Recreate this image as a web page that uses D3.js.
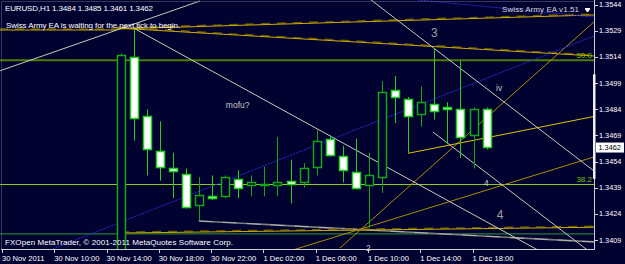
<!DOCTYPE html>
<html>
<head>
<meta charset="utf-8">
<script src="https://cdn.jsdelivr.net/npm/d3@7"></script>
<style>
  body { margin: 0; background: #020230; overflow: hidden; }
  svg { display: block; }
  text { font-family: "Liberation Sans", Arial, sans-serif; }
</style>
</head>
<body>
<div class="svg-container"></div>
<script>
var width = 625;
var height = 264;
var plot = { "left": 0, "top": 0, "right": 594, "bottom": 249 };

// H1 bars, index 0 = 30 Nov 14:00
var barIndex = [1, 2, 3, 4, 5, 6, 7, 8, 9, 10, 11, 12, 13, 14, 15,
                16, 17, 18, 19, 20, 21, 22, 23, 24, 25, 26, 27, 28, 29];
var opens  = [1.3380, 1.3514, 1.3480, 1.3460, 1.3450, 1.3447, 1.3429, 1.3434, 1.3434, 1.3444,
              1.3440, 1.3441, 1.3440, 1.3443, 1.3442, 1.3451, 1.3467, 1.3457, 1.3448, 1.3440,
              1.3445, 1.3495, 1.3490, 1.3481, 1.3487, 1.3485, 1.3484, 1.3469, 1.3484];
var highs  = [1.3516, 1.3530, 1.3484, 1.3477, 1.3459, 1.3450, 1.3445, 1.3446, 1.3446, 1.3449,
              1.3446, 1.3451, 1.3468, 1.3455, 1.3453, 1.3472, 1.3469, 1.3463, 1.3467, 1.3459,
              1.3500, 1.3503, 1.3491, 1.3497, 1.3519, 1.3488, 1.3512, 1.3485, 1.3485];
var lows   = [1.3375, 1.3466, 1.3446, 1.3443, 1.3433, 1.3427, 1.3420, 1.3432, 1.3433, 1.3433,
              1.3434, 1.3434, 1.3434, 1.3430, 1.3439, 1.3446, 1.3457, 1.3442, 1.3438, 1.3416,
              1.3436, 1.3476, 1.3459, 1.3474, 1.3478, 1.3464, 1.3456, 1.3450, 1.3461];
var closes = [1.3515, 1.3479, 1.3461, 1.3451, 1.3448, 1.3428, 1.3435, 1.3433, 1.3445, 1.3439,
              1.3442, 1.3441, 1.3442, 1.3441, 1.3450, 1.3466, 1.3458, 1.3449, 1.3439, 1.3446,
              1.3494, 1.3491, 1.3480, 1.3488, 1.3483, 1.3484, 1.3468, 1.3484, 1.3462];

var timeTickBars = [-8, -4, 0, 4, 8, 12, 16, 20, 24, 28];
var timeTickLabels = ["30 Nov 2011", "30 Nov 10:00", "30 Nov 14:00", "30 Nov 18:00", "30 Nov 22:00",
                      "1 Dec 02:00", "1 Dec 06:00", "1 Dec 10:00", "1 Dec 14:00", "1 Dec 18:00"];
var priceTicks = [1.3544, 1.3529, 1.3514, 1.3499, 1.3484, 1.3469, 1.3454, 1.3439, 1.3424, 1.3409];

// fibo levels
var fiboLevels = [1.3512, 1.3441];
var fiboNames = ["50.0", "38.2"];

// trendlines as [bar, price, bar, price]
var greyLines = [[-8.23, 1.3506, 7.07, 1.3546],
                 [1.99, 1.35305, 33.47, 1.34010],
                 [20.16, 1.35466, 37.21, 1.34486],
                 [24.9, 1.34709, 37.21, 1.34004]];
var channelLines = [[-8.3, 1.35294, 0.72, 1.35294],
                    [0.72, 1.35300, 37.21, 1.35380],
                    [0.72, 1.35305, 37.21, 1.35145],
                    [0.96, 1.34130, 37.21, 1.34163]];
var fanLines = [[17.78, 1.34044, 37.21, 1.35340],
                [14.19, 1.34033, 37.21, 1.34566]];
var yellowLines = [[22.99, 1.34587, 37.21, 1.34798]];
var blueLines = [[-4.4, 1.34033, 37.21, 1.35259],
                 [23.75, 1.35466, 37.21, 1.35368]];
var greenLines = [[-8.3, 1.34125, 37.21, 1.34125]];
var stepLines = [[6.97, 1.34199, 37.21, 1.34079]];

// wave labels
var waveLabels = ["3", "iv", "4", "4", "2", "mofu?"];
var waveBars = [24.75, 29.72, 28.8, 29.77, 19.77, 9.05];
var wavePrices = [1.35254, 1.34944, 1.34401, 1.34210, 1.34027, 1.34847];
var waveSizes = ["big", "small", "small", "big", "small", "small"];

var symbol = "EURUSD,H1";

var scaleX = d3.scaleLinear().domain([-8, 29]).range([3, 486.6]);
var scaleY = d3.scaleLinear().domain([1.3409, 1.3544]).range([240, 4.5]);

var svg = d3.select(".svg-container").append("svg")
            .attr("width", width)
            .attr("height", height);

svg.append("rect")
   .attr("width", width)
   .attr("height", height)
   .attr("fill", "#020230");

svg.append("clipPath")
   .attr("id", "plot-clip")
   .append("rect")
   .attr("x", plot.left).attr("y", plot.top)
   .attr("width", plot.right - plot.left)
   .attr("height", plot.bottom - plot.top);

var chart = svg.append("g").attr("clip-path", "url(#plot-clip)");

function px(v) { return Math.round(v) + 0.5; }

// frame
svg.append("path")
   .attr("d", "M1.5,249.5V1.5H594.5")
   .attr("fill", "none")
   .attr("stroke", "#6c6c80")
   .attr("stroke-dasharray", "1,1");
svg.append("path")
   .attr("d", "M1,249.5H594.5V0")
   .attr("fill", "none")
   .attr("stroke", "#d0d0d0");

function drawSegments(container, data, stroke, widthPx, dash, dy) {
  container.append("g")
    .selectAll("line")
    .data(data)
    .enter()
    .append("line")
      .attr("x1", function(d) { return scaleX(d[0]); })
      .attr("y1", function(d) { return scaleY(d[1]) + (dy || 0); })
      .attr("x2", function(d) { return scaleX(d[2]); })
      .attr("y2", function(d) { return scaleY(d[3]) + (dy || 0); })
      .attr("stroke", stroke)
      .attr("stroke-width", widthPx)
      .style("stroke-dasharray", dash || null);
}

// fibo horizontals
chart.append("line")
  .attr("x1", plot.left).attr("x2", plot.right)
  .attr("y1", scaleY(fiboLevels[0])).attr("y2", scaleY(fiboLevels[0]))
  .attr("stroke", "#4c7f00").attr("stroke-width", 2);
chart.append("line")
  .attr("x1", plot.left).attr("x2", plot.right)
  .attr("y1", px(scaleY(fiboLevels[1]))).attr("y2", px(scaleY(fiboLevels[1])))
  .attr("stroke", "#8ccc1c").attr("stroke-width", 1);

// lower stepped stuff
drawSegments(chart, greenLines, "#2a9a3a", 1);
drawSegments(chart, stepLines, "#7c7c7c", 1.6);
drawSegments(chart, stepLines, "#dcdcdc", 0.6, "14,10");

// trend lines
drawSegments(chart, channelLines, "#6a5a00", 1.4, "9,7", -1);
drawSegments(chart, channelLines, "#d0ac00", 1);
drawSegments(chart, fanLines, "#a88e00", 1);
drawSegments(chart, yellowLines, "#e2c200", 1);
drawSegments(chart, blueLines, "#2a2ad8", 1, "2,1");
drawSegments(chart, greyLines, "#cacab6", 1);

// candles
var bars = barIndex.map(function(k, i) {
  return { k: k, o: opens[i], h: highs[i], l: lows[i], c: closes[i] };
});

var candles = chart.append("g").attr("class", "candles")
  .selectAll("g")
  .data(bars)
  .enter()
  .append("g");

candles.append("line")
  .attr("x1", function(d) { return px(scaleX(d.k)); })
  .attr("x2", function(d) { return px(scaleX(d.k)); })
  .attr("y1", function(d) { return scaleY(d.h); })
  .attr("y2", function(d) { return scaleY(d.l); })
  .attr("stroke", function(d) { return d.c >= d.o ? "#12a812" : "#1ed21e"; });

candles.append("rect")
  .attr("x", function(d) { return px(scaleX(d.k)) - 4; })
  .attr("y", function(d) { return Math.round(scaleY(Math.max(d.o, d.c))) + 0.5; })
  .attr("width", 8)
  .attr("height", function(d) { return Math.max(1, Math.round(Math.abs(scaleY(d.o) - scaleY(d.c)))); })
  .attr("fill", function(d) { return d.c >= d.o ? "#020230" : "#ffffff"; })
  .attr("stroke", function(d) { return d.c >= d.o ? "#12a812" : "#1ed21e"; })
  .attr("stroke-width", 1.5);

// fibo labels
svg.selectAll(".fibo-label")
  .data(fiboLevels)
  .enter()
  .append("text")
    .attr("class", "fibo-label")
    .attr("x", 592)
    .attr("y", function(d) { return scaleY(d) - 2; })
    .attr("text-anchor", "end")
    .attr("fill", "#7cc000")
    .style("font-size", "8px")
    .text(function(d, i) { return fiboNames[i]; });

// wave labels
svg.selectAll(".wave")
  .data(waveLabels)
  .enter()
  .append("text")
    .attr("class", "wave")
    .attr("x", function(d, i) { return scaleX(waveBars[i]); })
    .attr("y", function(d, i) { return scaleY(wavePrices[i]); })
    .attr("fill", function(d, i) { return waveSizes[i] == "big" ? "#a0a0a0" : "#c8c8c8"; })
    .style("font-size", function(d, i) { return waveSizes[i] == "big" ? "12px" : "8.5px"; })
    .text(function(d) { return d; });

// price axis
var yAxisG = svg.append("g").attr("class", "yAxis");
yAxisG.selectAll("line")
  .data(priceTicks)
  .enter()
  .append("line")
    .attr("x1", 594).attr("x2", 598)
    .attr("y1", function(d) { return px(scaleY(d)); })
    .attr("y2", function(d) { return px(scaleY(d)); })
    .attr("stroke", "#d0d0d0");
yAxisG.selectAll("text")
  .data(priceTicks)
  .enter()
  .append("text")
    .attr("x", 599)
    .attr("y", function(d) { return scaleY(d) + 2.6; })
    .attr("fill", "#ffffff")
    .style("font-size", "7.3px")
    .text(function(d) { return d.toFixed(4); });

// last price marker
var lastClose = closes[closes.length - 1];
svg.append("rect")
  .attr("x", 593).attr("y", scaleY(highs[26] - 0.0008))
  .attr("width", 2.5)
  .attr("height", scaleY(1.3454 - 0.0010) - scaleY(highs[26] - 0.0008))
  .attr("fill", "#f0f0f0");
svg.append("rect")
  .attr("x", 596).attr("y", scaleY(lastClose) - 5)
  .attr("width", 28).attr("height", 10)
  .attr("fill", "#ffffff");
svg.append("text")
  .attr("x", 598.5)
  .attr("y", scaleY(lastClose) + 2.6)
  .attr("fill", "#000000")
  .style("font-size", "7.3px")
  .text(lastClose.toFixed(4));

// time axis
var xAxisG = svg.append("g").attr("class", "xAxis");
xAxisG.selectAll("line")
  .data(timeTickBars)
  .enter()
  .append("line")
    .attr("x1", function(d) { return px(scaleX(d) - 1); })
    .attr("x2", function(d) { return px(scaleX(d) - 1); })
    .attr("y1", 249).attr("y2", 253)
    .attr("stroke", "#d0d0d0");
xAxisG.selectAll("text")
  .data(timeTickLabels)
  .enter()
  .append("text")
    .attr("x", function(d, i) { return scaleX(timeTickBars[i]) - 1; })
    .attr("y", 261)
    .attr("fill", "#ffffff")
    .style("font-size", "7.6px")
    .text(function(d) { return d; });

// header texts
var last = closes.length - 1;
svg.append("text")
  .attr("x", 5).attr("y", 11)
  .attr("fill", "#ffffff")
  .style("font-size", "8px")
  .attr("textLength", 148)
  .text(symbol + "  " + [opens[last], highs[last], lows[last], closes[last]].map(function(v) { return v.toFixed(4); }).join(" "));

svg.append("text")
  .attr("x", 6).attr("y", 28)
  .attr("fill", "#ffffff")
  .style("font-size", "8px")
  .attr("textLength", 174)
  .text("Swiss Army EA is waiting for the next tick to begin.");

svg.append("text")
  .attr("x", 502).attr("y", 12)
  .attr("fill", "#d8d8d8")
  .style("font-size", "8px")
  .attr("textLength", 77)
  .text("Swiss Army EA v1.51");

svg.append("path")
  .attr("d", "M585,8.5H590M585.5,9.5L587.5,12L589.5,9.5Z")
  .attr("fill", "#ffffff")
  .attr("stroke", "#ffffff")
  .attr("stroke-width", 1);

svg.append("text")
  .attr("x", 5).attr("y", 245)
  .attr("fill", "#ffffff")
  .style("font-size", "8px")
  .attr("textLength", 228)
  .text("FXOpen MetaTrader, \u00a9 2001-2011 MetaQuotes Software Corp.");
</script>
</body>
</html>
